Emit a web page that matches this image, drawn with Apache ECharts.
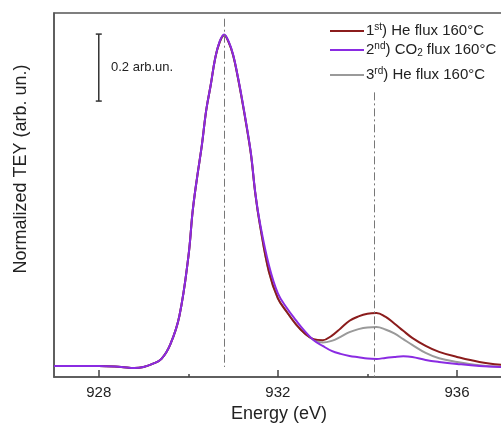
<!DOCTYPE html>
<html><head><meta charset="utf-8">
<script src="https://cdn.jsdelivr.net/npm/echarts@6/dist/echarts.min.js"></script>
<style>html,body{margin:0;padding:0;background:#fff;}#c{width:501px;height:428px;}</style>
</head><body><div id="c"></div>
<script>
var energy = [927.0,927.5,928.0,928.5,928.8,929.0,929.2,929.4,929.6,929.8,930.0,930.1,930.2,930.3,930.4,930.5,930.6,930.7,930.8,930.9,931.0,931.1,931.2,931.3,931.4,931.5,931.6,931.8,932.0,932.2,932.4,932.6,932.8,933.0,933.2,933.4,933.6,933.8,934.0,934.2,934.4,934.6,934.8,935.0,935.3,935.6,936.0,936.5,937.0];
var he1 = [0.003,0.003,0.003,0.0,-0.003,0.0,0.009,0.024,0.068,0.152,0.328,0.469,0.570,0.660,0.767,0.842,0.922,0.970,0.991,0.970,0.931,0.869,0.797,0.719,0.633,0.513,0.424,0.284,0.205,0.164,0.128,0.100,0.083,0.080,0.093,0.115,0.138,0.151,0.159,0.161,0.150,0.130,0.108,0.087,0.063,0.045,0.030,0.015,0.006];
var co2 = [0.003,0.003,0.003,0.0,-0.003,0.0,0.009,0.024,0.068,0.152,0.328,0.469,0.570,0.660,0.767,0.842,0.922,0.972,0.993,0.972,0.933,0.871,0.800,0.722,0.636,0.516,0.430,0.304,0.220,0.176,0.140,0.107,0.080,0.063,0.048,0.039,0.033,0.029,0.025,0.024,0.027,0.030,0.032,0.030,0.021,0.015,0.009,0.003,0.0];
var he3 = [0.003,0.003,0.003,0.0,-0.003,0.0,0.009,0.024,0.068,0.152,0.328,0.469,0.570,0.660,0.767,0.842,0.922,0.970,0.990,0.970,0.931,0.869,0.797,0.719,0.633,0.513,0.424,0.284,0.205,0.164,0.128,0.100,0.081,0.073,0.078,0.090,0.104,0.113,0.118,0.119,0.112,0.100,0.083,0.066,0.042,0.026,0.015,0.005,0.0];
var seriesNames = ['1st) He flux 160°C','2nd) CO2 flux 160°C','3rd) He flux 160°C'];
var legendRich = ['1{sup|st}) He flux 160°C','2{sup|nd}) CO{sub|2} flux 160°C','3{sup|rd}) He flux 160°C'];
var xTickLabels = [928,932,936];
var xMinorTicks = [930,934];
var refLines = [930.8,934.15];
var refTop = [1.04,0.82];
var refBottom = [0.0,-0.03];
var scaleBar = [[928,0.794],[928,0.994]];

function pairs(ys){return energy.map(function(e,i){return [e,ys[i]];});}
var colors = ['#8b1c1c','#8a2be2','#9a9a9a'];
var FONT = 'Liberation Sans, Arial';
var rich = {sup:{fontSize:10,padding:[0,0,8,0],color:'#222',fontFamily:FONT},sub:{fontSize:10,padding:[7,0,0,0],color:'#222',fontFamily:FONT}};
function legendFor(i,top){
  return {data:[seriesNames[i]],left:325,top:top,icon:'rect',itemWidth:34,itemHeight:2,itemGap:4,
    textStyle:{fontSize:15,color:'#222',fontFamily:FONT,rich:rich,padding:[0,0,0,-3]},
    formatter:function(){return legendRich[i];}};
}
var chart = echarts.init(document.getElementById('c'));
chart.setOption({
  animation:false,
  grid:{left:54,top:13,width:450,height:364,outerBoundsMode:'none',containLabel:false,show:true,borderColor:'#555',borderWidth:1.5},
  legend:[legendFor(0,17),legendFor(1,36),legendFor(2,61)],
  xAxis:[{type:'value',min:927,max:937.05,
    name:'Energy (eV)',nameLocation:'middle',nameGap:28,nameTextStyle:{fontSize:18,color:'#222',fontFamily:FONT},
    axisLine:{onZero:false,lineStyle:{color:'#555',width:1.5}},
    axisTick:{inside:true,length:7,customValues:xTickLabels,lineStyle:{color:'#444',width:1.5}},
    axisLabel:{customValues:xTickLabels,fontSize:15,color:'#222',margin:8,fontFamily:FONT},
    splitLine:{show:false}},
    {type:'value',min:927,max:937.05,position:'bottom',axisLine:{show:false,onZero:false},
    axisTick:{inside:true,length:3,customValues:xMinorTicks,lineStyle:{color:'#444',width:1.5}},
    axisLabel:{show:false},splitLine:{show:false}}],
  yAxis:{type:'value',min:-0.03,max:1.057,
    axisLine:{show:true,onZero:false,lineStyle:{color:'#555',width:1.5}},axisTick:{show:false},axisLabel:{show:false},splitLine:{show:false}},
  graphic:[
    {type:'text',left:111,top:61,style:{text:'0.2 arb.un.',fontSize:13,fill:'#222',fontFamily:FONT}},
    {type:'text',x:21,y:169,rotation:Math.PI/2,style:{text:'Normalized TEY (arb. un.)',fontSize:18,fill:'#222',fontFamily:FONT,align:'center',verticalAlign:'middle'}}
  ],
  series:[
    {name:seriesNames[0],type:'line',data:pairs(he1),smooth:0.4,showSymbol:false,lineStyle:{color:colors[0],width:2},itemStyle:{color:colors[0]},z:3,
     markLine:{silent:true,symbol:'none',label:{show:false},lineStyle:{color:'#777',type:[8,3,2,3],width:1},
       data:refLines.map(function(v,i){return [{coord:[v,refTop[i]]},{coord:[v,refBottom[i]]}];})}},
    {name:seriesNames[2],type:'line',data:pairs(he3),smooth:0.4,showSymbol:false,lineStyle:{color:colors[2],width:2},itemStyle:{color:colors[2]},z:2},
    {name:seriesNames[1],type:'line',data:pairs(co2),smooth:0.4,showSymbol:false,lineStyle:{color:colors[1],width:2},itemStyle:{color:colors[1]},z:4},
    {name:'scale',type:'line',data:scaleBar,symbol:'rect',symbolSize:[6,1.5],showSymbol:true,lineStyle:{color:'#333',width:1.5},itemStyle:{color:'#333'},z:5}
  ]
});
</script></body></html>
